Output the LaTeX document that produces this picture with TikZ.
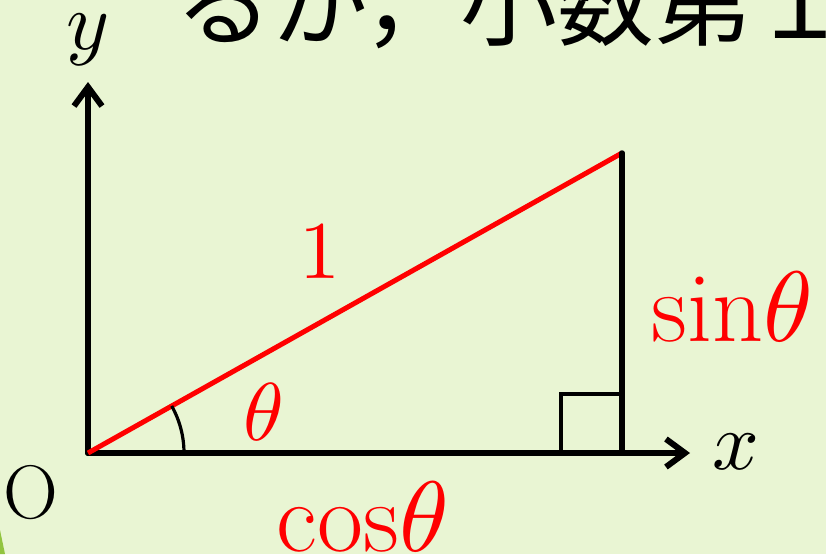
\documentclass[tikz,border=0pt]{standalone}
\usepackage{fontspec}
\usepackage{unicode-math}
\setmathfont{Latin Modern Math}
\newfontfamily\jpfont{Noto Sans CJK JP}
\usetikzlibrary{arrows.meta}
\definecolor{slidebg}{RGB}{233,245,211}
\definecolor{leafgreen}{RGB}{146,196,64}
\tikzset{
  axis/.style={line width=6pt,line cap=round,line join=round},
  side/.style={line width=5.5pt,line cap=round},
  hyp/.style={line width=5pt,red},
  thinline/.style={line width=3.2pt},
  lbl/.style={inner sep=0pt,font=\fontsize{82}{82}\selectfont},
  biglbl/.style={inner sep=0pt,red,font=\fontsize{100}{100}\selectfont}
}
\begin{document}
\begin{tikzpicture}[x=1pt,y=-1pt,>={Straight Barb[length=19pt,width=28pt]}]
  \fill[slidebg] (0,0) rectangle (826,554);
  \useasboundingbox (0,0) rectangle (826,554);
  \clip (0,0) rectangle (826,554);
  \fill[leafgreen] (0,530) -- (5,554) -- (0,554) -- cycle;
  \node[inner sep=0pt,anchor=base west,font=\jpfont\fontsize{97}{97}\selectfont] (caption) at (175,38) {るが，小数第１};
  \coordinate (O) at (88,453);
  \coordinate (P) at (622,153);
  \coordinate (Q) at (622,453);
  \coordinate (X) at (690,453);
  \coordinate (Y) at (88,82);
  \draw[axis,->] (O) -- (X);
  \draw[axis,->] (O) -- (Y);
  \draw[thinline] ([xshift=-61pt]Q) |- ([yshift=59pt]Q);
  \draw[hyp] (O) -- (P);
  \draw[side] (P) -- (Q);
  \draw[thinline] ([xshift=96pt]O) arc[start angle=0,end angle=-29.33,radius=96];
  \node[lbl,anchor=base west] (xl) at (712,469) {$x$};
  \node[lbl,anchor=base] (yl) at (88,49) {$y$};
  \node[lbl,anchor=base,font=\fontsize{76}{76}\selectfont] (ol) at (31,518) {O};
  \node[lbl,anchor=base,red] (one) at (320,278) {$1$};
  \node[lbl,anchor=base west,red] (th) at (243,440) {$\theta$};
  \node[biglbl,anchor=base west] (sn) at (651,341) {$\mathrm{sin}\theta$};
  \node[biglbl,anchor=base] (cs) at (362,551) {$\mathrm{cos}\theta$};
\end{tikzpicture}
\end{document}
